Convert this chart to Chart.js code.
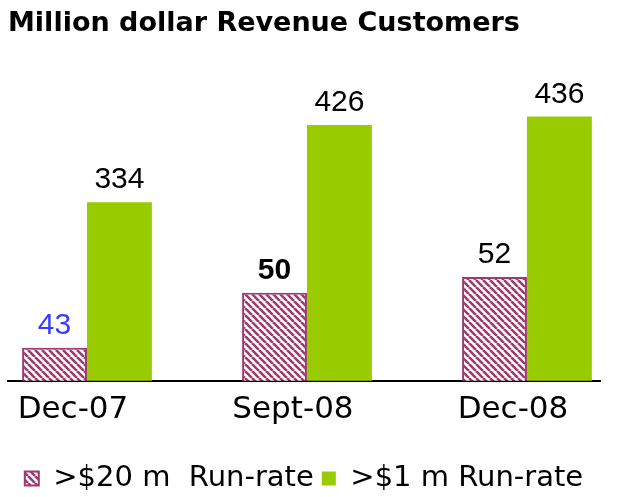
<!DOCTYPE html>
<html>
<head>
<meta charset="utf-8">
<script src="https://cdn.jsdelivr.net/npm/chart.js@4/dist/chart.umd.min.js"></script>
<style>
  html, body { margin: 0; padding: 0; background: #fff; }
  #wrap { width: 634px; height: 497px; }
</style>
</head>
<body>
<div id="wrap"><canvas id="chart"></canvas></div>
<script>
const periods = ['Dec-07', 'Sept-08', 'Dec-08'];
const over20m = [43, 50, 52];        // customers >$20 m run-rate
const over1m = [334, 426, 436];      // customers >$1 m run-rate
const seriesNames = ['>$20 m  Run-rate', '>$1 m Run-rate'];

const MAROON = '#a03a6c';
const GREEN = '#99cc00';

// diagonal white/maroon hatch like the original fill
function hatch(fg, bg) {
    const s = 7;
    const c = document.createElement('canvas');
    c.width = c.height = s;
    const g = c.getContext('2d');
    g.fillStyle = bg;
    g.fillRect(0, 0, s, s);
    g.strokeStyle = fg;
    g.lineWidth = 2.6;
    g.beginPath();
    for (const o of [-s, 0, s]) {
        g.moveTo(o, 0);
        g.lineTo(o + s, s);
    }
    g.stroke();
    return g.createPattern(c, 'repeat');
}

// numbers above the bars
const valueLabels = {
    id: 'valueLabels',
    afterDatasetsDraw(chart) {
        const ctx = chart.ctx;
        chart.data.datasets.forEach((ds, di) => {
            chart.getDatasetMeta(di).data.forEach((bar, i) => {
                ctx.save();
                ctx.font = `${ds.labelWeights[i]} 30px "Liberation Sans", Arial, sans-serif`;
                ctx.fillStyle = ds.labelColors[i];
                ctx.textAlign = 'center';
                ctx.textBaseline = 'bottom';
                ctx.fillText(ds.data[i].y, bar.x, bar.y - 7);
                ctx.restore();
            });
        });
    }
};

new Chart(document.getElementById('chart'), {
    type: 'bar',
    data: {
        datasets: [
            {
                label: seriesNames[0],
                data: periods.map((p, i) => ({ x: i, y: over20m[i] })),
                backgroundColor: hatch(MAROON, '#ffffff'),
                borderColor: MAROON,
                borderWidth: 2,
                yAxisID: 'y',
                labelColors: ['#3b3bff', '#000000', '#000000'],
                labelWeights: ['normal', 'bold', 'normal']
            },
            {
                label: seriesNames[1],
                data: periods.map((p, i) => ({ x: i, y: over1m[i] })),
                backgroundColor: GREEN,
                borderWidth: 0,
                yAxisID: 'y2',
                labelColors: ['#000000', '#000000', '#000000'],
                labelWeights: ['normal', 'normal', 'normal']
            }
        ]
    },
    options: {
        responsive: true,
        maintainAspectRatio: false,
        animation: false,
        categoryPercentage: 0.59,
        barPercentage: 1,
        layout: { padding: { left: 8, right: 34, top: 0, bottom: -6 } },
        plugins: {
            title: {
                display: true,
                text: 'Million dollar Revenue Customers',
                align: 'start',
                color: '#000',
                font: { family: 'DejaVu Sans', weight: 'bold', size: 27 },
                padding: { top: 8, bottom: 20 }
            },
            legend: {
                position: 'bottom',
                labels: {
                    color: '#000',
                    boxWidth: 14,
                    boxHeight: 14,
                    padding: 8,
                    font: { family: 'DejaVu Sans', size: 29 }
                }
            },
            tooltip: { enabled: false }
        },
        scales: {
            x: {
                type: 'linear',
                offset: false,
                min: -0.359,
                max: 2.332,
                grid: { display: false, offset: false },
                border: { display: true, color: '#000', width: 2 },
                // leave room between the period labels and the legend
                afterFit: scale => { scale.height += 24; },
                ticks: {
                    stepSize: 1,
                    includeBounds: false,
                    labelOffset: -14,
                    padding: 3,
                    color: '#000',
                    font: { family: 'DejaVu Sans', size: 31 },
                    callback: v => periods[v] ?? ''
                }
            },
            y: { display: false, min: 38.8, max: 79.5 },
            y2: { display: false, min: 121, max: 503 }
        }
    },
    plugins: [valueLabels]
});
</script>
</body>
</html>
